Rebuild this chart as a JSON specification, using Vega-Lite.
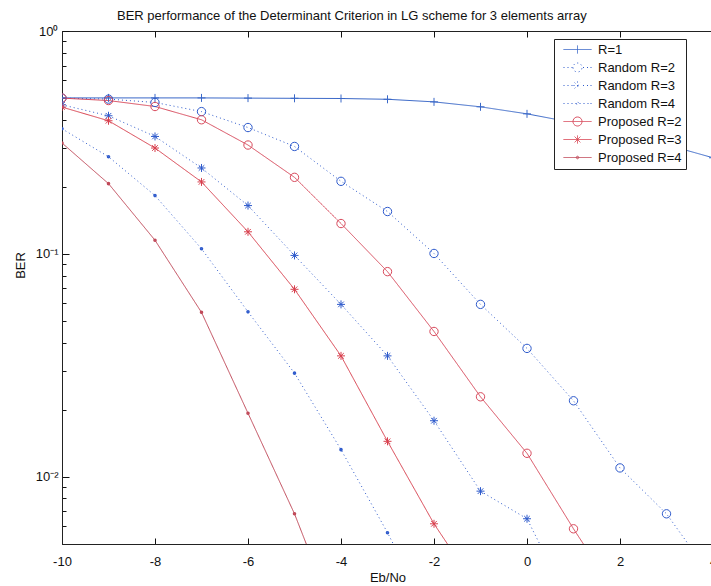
{
  "$schema": "https://vega.github.io/schema/vega-lite/v6.json",
  "autosize": {"type": "none"},
  "width": 651,
  "height": 513,
  "padding": {"left": 62, "top": 31, "right": 0, "bottom": 42},
  "background": "white",
  "config": {
    "view": {"stroke": "#222", "strokeWidth": 1},
    "font": "Liberation Sans",
    "axis": {"labelFont": "Liberation Sans", "labelFontSize": 13, "labelColor": "#111", "titleFont": "Liberation Sans", "titleFontSize": 13, "titleFontWeight": "normal", "titleColor": "#111", "domainColor": "#222", "tickColor": "#111", "tickWidth": 1, "grid": false, "labelOverlap": false, "labelFlush": false},
    "legend": {"orient": "none", "legendX": 492, "legendY": 8, "fillColor": "white", "strokeColor": "#222", "padding": 4,
      "labelFont": "Liberation Sans", "labelFontSize": 13, "labelColor": "#111", "symbolSize": 100, "symbolStrokeWidth": 1, "symbolOffset": 13, "labelOffset": 14, "rowPadding": 4, "symbolFillColor": "transparent", "symbolOpacity": 1}
  },
  "title": {"text": "BER performance of the Determinant Criterion in LG scheme for 3 elements array", "anchor": "start", "frame": "group", "dx": 55, "fontSize": 13, "fontWeight": "normal", "font": "Liberation Sans", "color": "#111", "offset": 2},
  "data": {"values": [
    {"s": "R=1", "x": -10, "y": 0.501}, {"s": "R=1", "x": -9, "y": 0.501}, {"s": "R=1", "x": -8, "y": 0.501}, {"s": "R=1", "x": -7, "y": 0.501}, {"s": "R=1", "x": -6, "y": 0.5}, {"s": "R=1", "x": -5, "y": 0.499}, {"s": "R=1", "x": -4, "y": 0.498}, {"s": "R=1", "x": -3, "y": 0.494}, {"s": "R=1", "x": -2, "y": 0.481}, {"s": "R=1", "x": -1, "y": 0.457}, {"s": "R=1", "x": 0, "y": 0.425}, {"s": "R=1", "x": 1, "y": 0.388}, {"s": "R=1", "x": 2, "y": 0.35}, {"s": "R=1", "x": 3, "y": 0.309}, {"s": "R=1", "x": 4, "y": 0.27},
    {"s": "Random R=2", "x": -10, "y": 0.5}, {"s": "Random R=2", "x": -9, "y": 0.495}, {"s": "Random R=2", "x": -8, "y": 0.478}, {"s": "Random R=2", "x": -7, "y": 0.435}, {"s": "Random R=2", "x": -6, "y": 0.369}, {"s": "Random R=2", "x": -5, "y": 0.3035}, {"s": "Random R=2", "x": -4, "y": 0.2117}, {"s": "Random R=2", "x": -3, "y": 0.155}, {"s": "Random R=2", "x": -2, "y": 0.1005}, {"s": "Random R=2", "x": -1, "y": 0.0594}, {"s": "Random R=2", "x": 0, "y": 0.0377}, {"s": "Random R=2", "x": 1, "y": 0.02195}, {"s": "Random R=2", "x": 2, "y": 0.01097}, {"s": "Random R=2", "x": 3, "y": 0.00683}, {"s": "Random R=2", "x": 4, "y": 0.0035},
    {"s": "Random R=3", "x": -10, "y": 0.4666}, {"s": "Random R=3", "x": -9, "y": 0.4166}, {"s": "Random R=3", "x": -8, "y": 0.3365}, {"s": "Random R=3", "x": -7, "y": 0.243}, {"s": "Random R=3", "x": -6, "y": 0.1648}, {"s": "Random R=3", "x": -5, "y": 0.0985}, {"s": "Random R=3", "x": -4, "y": 0.0594}, {"s": "Random R=3", "x": -3, "y": 0.0349}, {"s": "Random R=3", "x": -2, "y": 0.01786}, {"s": "Random R=3", "x": -1, "y": 0.00863}, {"s": "Random R=3", "x": 0, "y": 0.00649}, {"s": "Random R=3", "x": 1, "y": 0.0025},
    {"s": "Random R=4", "x": -10, "y": 0.3642}, {"s": "Random R=4", "x": -9, "y": 0.273}, {"s": "Random R=4", "x": -8, "y": 0.1827}, {"s": "Random R=4", "x": -7, "y": 0.1055}, {"s": "Random R=4", "x": -6, "y": 0.055}, {"s": "Random R=4", "x": -5, "y": 0.0292}, {"s": "Random R=4", "x": -4, "y": 0.01325}, {"s": "Random R=4", "x": -3, "y": 0.00562}, {"s": "Random R=4", "x": -2, "y": 0.0022},
    {"s": "Proposed R=2", "x": -10, "y": 0.5}, {"s": "Proposed R=2", "x": -9, "y": 0.4876}, {"s": "Proposed R=2", "x": -8, "y": 0.4585}, {"s": "Proposed R=2", "x": -7, "y": 0.3998}, {"s": "Proposed R=2", "x": -6, "y": 0.308}, {"s": "Proposed R=2", "x": -5, "y": 0.2206}, {"s": "Proposed R=2", "x": -4, "y": 0.1369}, {"s": "Proposed R=2", "x": -3, "y": 0.0833}, {"s": "Proposed R=2", "x": -2, "y": 0.0449}, {"s": "Proposed R=2", "x": -1, "y": 0.02287}, {"s": "Proposed R=2", "x": 0, "y": 0.01276}, {"s": "Proposed R=2", "x": 1, "y": 0.00585}, {"s": "Proposed R=2", "x": 2, "y": 0.0028},
    {"s": "Proposed R=3", "x": -10, "y": 0.4557}, {"s": "Proposed R=3", "x": -9, "y": 0.3957}, {"s": "Proposed R=3", "x": -8, "y": 0.2986}, {"s": "Proposed R=3", "x": -7, "y": 0.2104}, {"s": "Proposed R=3", "x": -6, "y": 0.1257}, {"s": "Proposed R=3", "x": -5, "y": 0.0694}, {"s": "Proposed R=3", "x": -4, "y": 0.0349}, {"s": "Proposed R=3", "x": -3, "y": 0.01444}, {"s": "Proposed R=3", "x": -2, "y": 0.00616}, {"s": "Proposed R=3", "x": -1, "y": 0.003},
    {"s": "Proposed R=4", "x": -10, "y": 0.3145}, {"s": "Proposed R=4", "x": -9, "y": 0.2067}, {"s": "Proposed R=4", "x": -8, "y": 0.1152}, {"s": "Proposed R=4", "x": -7, "y": 0.0547}, {"s": "Proposed R=4", "x": -6, "y": 0.0193}, {"s": "Proposed R=4", "x": -5, "y": 0.00683}, {"s": "Proposed R=4", "x": -4, "y": 0.002}
  ]},
  "encoding": {
    "x": {"field": "x", "type": "quantitative", "scale": {"domain": [-10, 4], "nice": false, "zero": false},
      "axis": {"values": [-10, -8, -6, -4, -2, 0, 2, 4], "labelExpr": "replace(datum.label, '−', '-')", "tickSize": -6, "labelPadding": 17, "title": "Eb/No", "titleY": 33, "titleBaseline": "middle"}},
    "y": {"field": "y", "type": "quantitative", "scale": {"type": "log", "domain": [0.005, 1], "nice": false},
      "axis": {"values": [1, 0.9, 0.8, 0.7, 0.6, 0.5, 0.4, 0.3, 0.2, 0.1, 0.09, 0.08, 0.07, 0.06, 0.05, 0.04, 0.03, 0.02, 0.01, 0.009, 0.008, 0.007, 0.006],
        "labelExpr": "datum.value == 1 ? '10⁰' : datum.value == 0.1 ? '10⁻¹' : datum.value == 0.01 ? '10⁻²' : ''",
        "tickSize": {"condition": {"test": "datum.value == 1 || datum.value == 0.1 || datum.value == 0.01", "value": -7}, "value": -4},
        "labelPadding": 11, "title": "BER", "titleX": -42, "titleY": 234, "titleAlign": "center", "titleBaseline": "middle"}},
    "color": {"field": "s", "type": "nominal",
      "scale": {"domain": ["R=1", "Random R=2", "Random R=3", "Random R=4", "Proposed R=2", "Proposed R=3", "Proposed R=4"],
        "range": ["#3a68c8", "#2f5bcc", "#2f5bcc", "#2f5bcc", "#d84a5c", "#d8404e", "#c04858"]},
      "legend": {"title": null}}
  },
  "layer": [
    {"mark": {"type": "line", "strokeWidth": 1, "clip": true},
     "encoding": {"strokeDash": {"field": "s", "type": "nominal", "scale": {"domain": ["R=1", "Random R=2", "Random R=3", "Random R=4", "Proposed R=2", "Proposed R=3", "Proposed R=4"], "range": [[1, 0], [1, 3], [1, 3], [1, 3], [1, 0], [1, 0], [1, 0]]}, "legend": null}}},
    {"transform": [{"filter": "datum.s === 'R=1'"}],
     "mark": {"type": "point", "shape": "M-1,0H1M0,-1V1", "size": 64, "filled": false, "strokeWidth": 1, "opacity": 1, "clip": true},
     "encoding": {"x": {"field": "x", "type": "quantitative", "axis": {"orient": "top", "values": [-10, -8, -6, -4, -2, 0, 2, 4], "labels": false, "tickSize": -6, "domain": false, "title": null}}}},
    {"transform": [{"filter": "indexof(datum.s, 'R=2') >= 0"}],
     "mark": {"type": "point", "shape": "circle", "size": 70, "filled": false, "strokeWidth": 1, "opacity": 1, "clip": true},
     "encoding": {"x": {"field": "x", "type": "quantitative", "axis": null}}},
    {"transform": [{"filter": "indexof(datum.s, 'R=3') >= 0"}],
     "mark": {"type": "point", "shape": "M-1,0H1M0,-1V1M-0.7,-0.7L0.7,0.7M-0.7,0.7L0.7,-0.7", "size": 64, "filled": false, "strokeWidth": 1, "opacity": 1, "clip": true},
     "encoding": {"x": {"field": "x", "type": "quantitative", "axis": null}}},
    {"transform": [{"filter": "indexof(datum.s, 'R=4') >= 0"}],
     "mark": {"type": "point", "shape": "circle", "size": 4, "filled": false, "strokeWidth": 1.6, "opacity": 1, "clip": true},
     "encoding": {"x": {"field": "x", "type": "quantitative", "axis": null}}},
    {"transform": [{"filter": "false"}],
     "mark": {"type": "point", "filled": false, "strokeWidth": 1, "opacity": 1},
     "encoding": {"x": {"field": "x", "type": "quantitative", "axis": null},
       "shape": {"field": "s", "type": "nominal", "legend": {"title": null},
         "scale": {"domain": ["R=1", "Random R=2", "Random R=3", "Random R=4", "Proposed R=2", "Proposed R=3", "Proposed R=4"],
           "range": ["M-2.8,0H2.8M0,-0.8V0.8",
             "M-2.8,0h0.2M-2,0h0.2M-1.2,0h0.2M1.1,0h0.2M1.9,0h0.2M2.6,0h0.2M-0.9,0A0.9,0.9 0 1,0 0.9,0A0.9,0.9 0 1,0 -0.9,0",
             "M-2.8,0h0.2M-2,0h0.2M-1.2,0h0.2M1.1,0h0.2M1.9,0h0.2M2.6,0h0.2M-0.8,0H0.8M0,-0.8V0.8M-0.57,-0.57L0.57,0.57M-0.57,0.57L0.57,-0.57",
             "M-2.8,0h0.2M-2,0h0.2M-1.2,0h0.2M-0.4,0h0.2M0.4,0h0.2M1.2,0h0.2M2,0h0.2M2.6,0h0.2M-0.25,0A0.25,0.25 0 1,0 0.25,0A0.25,0.25 0 1,0 -0.25,0",
             "M-2.8,0H2.8M-0.9,0A0.9,0.9 0 1,0 0.9,0A0.9,0.9 0 1,0 -0.9,0",
             "M-2.8,0H2.8M0,-0.8V0.8M-0.57,-0.57L0.57,0.57M-0.57,0.57L0.57,-0.57",
             "M-2.8,0H2.8M-0.25,0A0.25,0.25 0 1,0 0.25,0A0.25,0.25 0 1,0 -0.25,0"]}}}}
  ],
  "resolve": {"axis": {"x": "independent"}}
}
